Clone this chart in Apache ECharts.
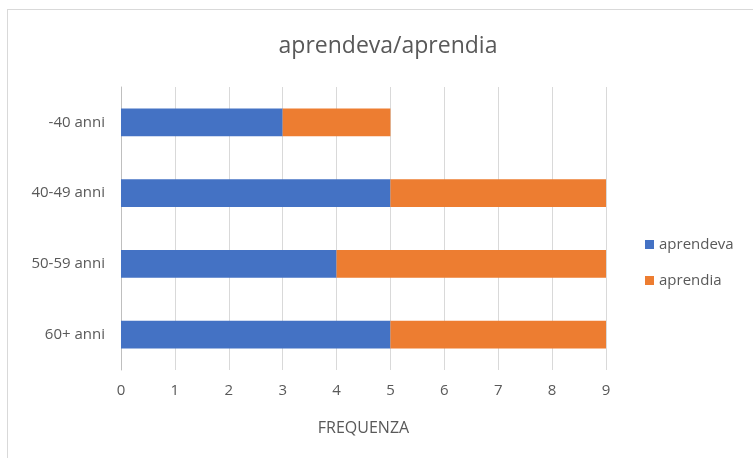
<!DOCTYPE html>
<html><head><meta charset="utf-8">
<script src="https://cdn.jsdelivr.net/npm/echarts@6/dist/echarts.min.js"></script>
<style>html,body{margin:0;padding:0;background:#fff;overflow:hidden;width:753px;height:458px}#wrap{position:absolute;left:7px;top:9px;width:800px;height:500px;border:1px solid #d9d9d9;box-sizing:border-box}#c{position:absolute;left:0;top:0;width:753px;height:458px}</style>
</head><body><div id="wrap"></div><div id="c"></div>
<script>
const categories = ['-40 anni', '40-49 anni', '50-59 anni', '60+ anni'];
const aprendeva = [3, 5, 4, 5];
const aprendia = [2, 4, 5, 4];
const xTicks = [0, 9, 1];
const chart = echarts.init(document.getElementById('c'));
const font = '"Open Sans", "Noto Sans", sans-serif';
chart.setOption({
  animation: false,
  title: { text: 'aprendeva/aprendia', left: 383, top: 30, textAlign: 'center',
    textStyle: { fontFamily: font, fontSize: 23, fontWeight: 'normal', color: '#595959' } },
  legend: { orient: 'vertical', left: 640, top: 232, itemWidth: 9, itemHeight: 9, itemGap: 21,
    icon: 'rect', textStyle: { fontFamily: font, fontSize: 15, color: '#595959' },
    data: ['aprendeva', 'aprendia'] },
  grid: { left: 121, right: 147, top: 87, bottom: 88, containLabel: false },
  xAxis: { type: 'value', min: xTicks[0], max: xTicks[1], interval: xTicks[2],
    name: 'FREQUENZA', nameLocation: 'middle', nameGap: 50,
    nameTextStyle: { fontFamily: font, fontSize: 16, color: '#595959' },
    axisLine: { show: false }, axisTick: { show: false },
    axisLabel: { fontFamily: font, fontSize: 15, color: '#595959', margin: 13 },
    splitLine: { lineStyle: { color: '#d9d9d9' } } },
  yAxis: { type: 'category', inverse: true, data: categories,
    axisLine: { lineStyle: { color: '#bfbfbf' } }, axisTick: { show: false },
    axisLabel: { fontFamily: font, fontSize: 15, color: '#595959', margin: 16 } },
  series: [
    { name: 'aprendeva', type: 'bar', stack: 't', data: aprendeva, barWidth: '39%', itemStyle: { color: '#4472c4' } },
    { name: 'aprendia', type: 'bar', stack: 't', data: aprendia, barWidth: '39%', itemStyle: { color: '#ed7d31' } }
  ]
});
</script></body></html>
